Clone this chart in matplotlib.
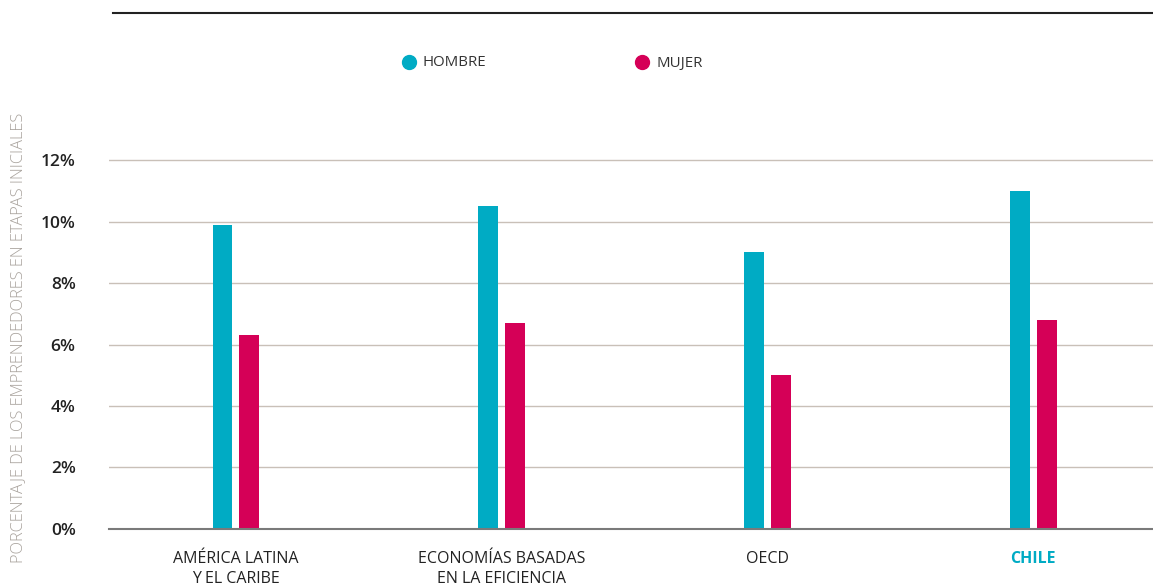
import numpy as np
import matplotlib
matplotlib.use("Agg")
import matplotlib.pyplot as plt
from matplotlib.lines import Line2D

# data
categorias = ["AMÉRICA LATINA\nY EL CARIBE", "ECONOMÍAS BASADAS\nEN LA EFICIENCIA", "OECD", "CHILE"]
hombre = [9.9, 10.5, 9.0, 11.0]
mujer = [6.3, 6.7, 5.0, 6.8]
yticks = [0, 2, 4, 6, 8, 10, 12]

TEAL = "#00abc4"
MAGENTA = "#d50057"
GRID = "#c9c0b8"

plt.rcParams['font.family'] = ['Open Sans', 'DejaVu Sans']

W, H = 1153, 584
fig = plt.figure(figsize=(W / 100, H / 100), dpi=100)
ax = fig.add_axes([109 / W, 55.3 / H, (W - 109) / W, 383.7 / H])

x = np.arange(len(categorias))
ax.bar(x - 0.05, hombre, width=0.073, color=TEAL, zorder=3)
ax.bar(x + 0.05, mujer, width=0.075, color=MAGENTA, zorder=3)

ax.set_xlim(-0.476, 3.45)
ax.set_ylim(0, 12.5)
ax.set_yticks(yticks)
ax.set_yticklabels(["%d%%" % v for v in yticks], fontsize=12.5, fontweight='semibold', color='#222222')
ax.set_xticks(x)
ax.set_xticklabels(categorias, fontsize=11.5, color='#222222', linespacing=1.3)
ax.get_xticklabels()[-1].set_color(TEAL)
ax.get_xticklabels()[-1].set_fontweight('bold')
ax.tick_params(axis='y', length=0, pad=24)
ax.tick_params(axis='x', length=0, pad=16)

ax.yaxis.grid(True, color=GRID, linewidth=1, zorder=0)
for s in ['top', 'right', 'left']:
    ax.spines[s].set_visible(False)
ax.spines['bottom'].set_color('#7a7a7a')
ax.spines['bottom'].set_linewidth(1.5)
ax.spines['bottom'].set_zorder(4)

# y label
fig.text(18 / W, 1 - 338 / H, "PORCENTAJE DE LOS EMPRENDEDORES EN ETAPAS INICIALES",
         rotation=90, ha='center', va='center', fontsize=11.8, fontweight='light', color='#a8a29c')

# top rule
fig.add_artist(Line2D([113 / W, 1152 / W], [1 - 13 / H] * 2, color='#222222', linewidth=1.5,
                      transform=fig.transFigure))

# legend
for cx, col, lab in [(409, TEAL, "HOMBRE"), (642, MAGENTA, "MUJER")]:
    fig.add_artist(Line2D([cx / W], [1 - 62 / H], marker='o', markersize=10, color=col,
                          linestyle='none', transform=fig.transFigure))
    fig.text((cx + 14) / W, 1 - 63 / H, lab, ha='left', va='center', fontsize=10.8,
             color='#333333')

fig.savefig("out.png", dpi=100)
